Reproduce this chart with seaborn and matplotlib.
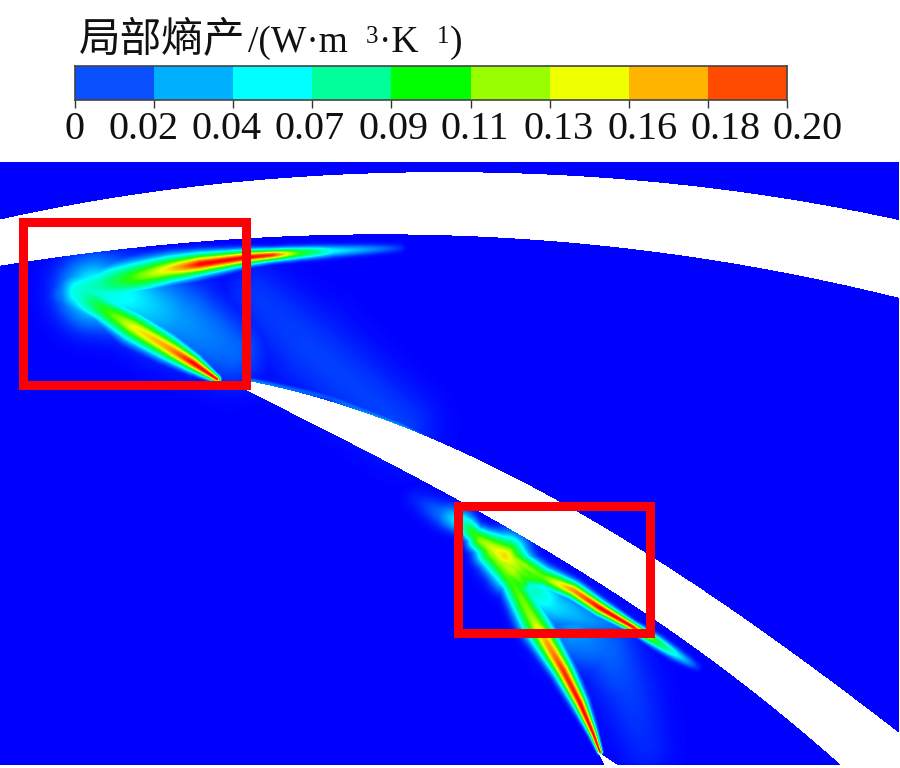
import numpy as np
import matplotlib
matplotlib.use('Agg')
import matplotlib.pyplot as plt
from matplotlib.colors import LinearSegmentedColormap, ListedColormap
from matplotlib.patches import Rectangle
import seaborn as sns

# local entropy production (image pixel coordinates)

bar_labels = ['0', '0.02', '0.04', '0.07', '0.09', '0.11', '0.13', '0.16', '0.18', '0.20']
label_centres = [75, 144, 227, 310, 394, 475, 559, 643, 726, 808]
bar_colors = ['#0a50ff', '#00b0ff', '#00ffff', '#00ff99', '#00ff00',
              '#99ff00', '#eeff00', '#ffb400', '#ff4b00']
bar_values = [0.01, 0.03, 0.055, 0.08, 0.10, 0.12, 0.145, 0.17, 0.19]

field_levels = [0.0, 0.012, 0.04, 0.07, 0.10, 0.14, 0.17, 0.20]
field_colors = ['#0000ff', '#0060ff', '#00ffff', '#00ff80', '#20ff00',
                '#f0ff00', '#ff9000', '#ff0000']

# white blade bands: upper edge x, y and lower edge x, y
band1_top_x = [0, 50, 100, 150, 200, 250, 300, 350, 400, 450, 500, 550, 600, 650, 700, 750, 800, 850, 900]
band1_top_y = [220, 209, 199, 192, 186, 182, 177, 174, 173, 172, 173, 174, 177, 182, 187, 193, 202, 210, 220]
band1_bot_x = [0, 50, 100, 150, 200, 250, 300, 350, 450, 500, 550, 600, 650, 700, 750, 800, 850, 900]
band1_bot_y = [267, 257, 251, 245, 242, 239, 237, 235, 235, 237, 241, 245, 251, 257, 267, 277, 287, 297]

band2_top_x = [243, 250, 280, 330, 380, 430, 480, 530, 557, 600, 653, 690, 740, 790, 840, 900]
band2_top_y = [381, 382, 387, 400, 417, 438, 463, 485, 501, 526, 557, 580, 615, 650, 690, 733]
band2_bot_x = [243, 280, 330, 380, 430, 460, 480, 565, 653, 690, 740, 790, 845]
band2_bot_y = [387, 408, 435, 458, 485, 500, 510, 562, 620, 643, 682, 722, 768]

band3_top_x = [598, 622]
band3_top_y = [752, 768]
band3_bot_x = [598, 606]
band3_bot_y = [752, 768]

# ridges of the field: x, y, peak value, half width
upper_x = [68, 80, 100, 140, 170, 200, 250, 273, 300, 333, 400]
upper_y = [294, 291, 285, 276, 269, 264, 257, 255, 253, 251, 248]
upper_v = [0.02, 0.05, 0.06, 0.115, 0.15, 0.2, 0.2, 0.19, 0.10, 0.04, 0.006]
upper_w = [16, 18, 16, 13, 11, 9, 6, 5, 5, 5, 4]

lower_x = [80, 103, 133, 167, 193, 217]
lower_y = [293, 309, 327, 347, 363, 379]
lower_v = [0.05, 0.095, 0.14, 0.165, 0.2, 0.2]
lower_w = [18, 11, 12, 10, 7, 3]

wake1_x = [95, 130, 180, 230]
wake1_y = [292, 298, 320, 350]
wake1_v = [0.05, 0.04, 0.022, 0.014]
wake1_w = [30, 30, 36, 32]

wake2_x = [255, 310, 400]
wake2_y = [295, 350, 425]
wake2_v = [0.007, 0.008, 0.008]
wake2_w = [30, 40, 34]

edge_x = [250, 330, 400, 440, 480]
edge_y = [381, 398, 428, 450, 470]
edge_v = [0.02, 0.01, 0.028, 0.05, 0.005]
edge_w = [3, 4, 5, 4, 2]

lead_x = [417, 440, 463, 473]
lead_y = [500, 513, 522, 533]
lead_v = [0.004, 0.014, 0.05, 0.1]
lead_w = [11, 12, 10, 8]

blade_x = [473, 510, 543, 573, 600, 633, 657, 677, 697]
blade_y = [533, 557, 577, 590, 608, 627, 642, 655, 667]
blade_v = [0.1, 0.13, 0.11, 0.17, 0.2, 0.2, 0.09, 0.04, 0.006]
blade_w = [7, 10, 9, 7, 6, 4, 5, 5, 4]

stem_x = [473, 497, 513, 533, 547, 563, 580, 593, 600]
stem_y = [533, 560, 583, 620, 643, 670, 703, 733, 752]
stem_v = [0.1, 0.12, 0.105, 0.125, 0.165, 0.19, 0.2, 0.2, 0.2]
stem_w = [7, 10, 10, 12, 10, 8, 6, 3.5, 2]

web_x = [480, 505, 525, 543]
web_y = [540, 556, 574, 580]
web_v = [0.12, 0.15, 0.11, 0.1]
web_w = [10, 17, 13, 6]

fill_x = [492, 512, 522]
fill_y = [552, 570, 582]
fill_v = [0.125, 0.13, 0.105]
fill_w = [13, 16, 10]

pocket_x = [535, 555, 590, 620]
pocket_y = [592, 606, 620, 625]
pocket_v = [0.055, 0.035, 0.022, 0.014]
pocket_w = [18, 20, 16, 10]

tail_x = [575, 607, 627, 645]
tail_y = [632, 650, 690, 745]
tail_v = [0.022, 0.013, 0.008, 0.005]
tail_w = [30, 30, 30, 26]

ridges = [
    (upper_x, upper_y, upper_v, upper_w),
    (lower_x, lower_y, lower_v, lower_w),
    (wake1_x, wake1_y, wake1_v, wake1_w),
    (wake2_x, wake2_y, wake2_v, wake2_w),
    (edge_x, edge_y, edge_v, edge_w),
    (lead_x, lead_y, lead_v, lead_w),
    (blade_x, blade_y, blade_v, blade_w),
    (stem_x, stem_y, stem_v, stem_w),
    (web_x, web_y, web_v, web_w),
    (fill_x, fill_y, fill_v, fill_w),
    (pocket_x, pocket_y, pocket_v, pocket_w),
    (tail_x, tail_y, tail_v, tail_w),
]

field_top = 162
field_bottom = 765
field_right = 899


def build_field():
    yy, xx = np.mgrid[0:768, 0:900]
    xx = xx + 0.5
    yy = yy + 0.5
    field = np.zeros(xx.shape)
    for rx, ry, rv, rw in ridges:
        for i in range(len(rx) - 1):
            dx = rx[i + 1] - rx[i]
            dy = ry[i + 1] - ry[i]
            t = ((xx - rx[i]) * dx + (yy - ry[i]) * dy) / (dx * dx + dy * dy)
            t = np.clip(t, 0, 1)
            d = np.hypot(xx - rx[i] - t * dx, yy - ry[i] - t * dy)
            peak = rv[i] + t * (rv[i + 1] - rv[i])
            width = rw[i] + t * (rw[i + 1] - rw[i])
            field = np.maximum(field, peak * np.exp(-(d / width) ** 2))
    return field


def edge_curve(xx, ex, ey, deg):
    # smooth the hand read edge points, the blades are clean arcs
    u = (xx - 450.0) / 450.0
    coef = np.polyfit((np.array(ex) - 450.0) / 450.0, ey, deg)
    return np.polyval(coef, u)


def build_mask():
    yy, xx = np.mgrid[0:768, 0:900]
    xx = xx + 0.5
    yy = yy + 0.5
    mask = (yy < field_top) | (yy > field_bottom) | (xx > field_right)
    bands = [
        (band1_top_x, band1_top_y, band1_bot_x, band1_bot_y, 0, 900, 4),
        (band2_top_x, band2_top_y, band2_bot_x, band2_bot_y, 243, 900, 3),
        (band3_top_x, band3_top_y, band3_bot_x, band3_bot_y, 598, 622, 1),
    ]
    for tx, ty, bx, by, x0, x1, deg in bands:
        top = edge_curve(xx, tx, ty, deg)
        bot = edge_curve(xx, bx, by, deg)
        mask = mask | ((yy > top) & (yy < bot) & (xx >= x0) & (xx <= x1))
    return mask


fig = plt.figure(figsize=(9, 7.68), dpi=100, facecolor='white')

# contour field
ax = fig.add_axes([0, 0, 1, 1])
stops = [v / 0.2 for v in field_levels]
field_cmap = LinearSegmentedColormap.from_list('entropy', list(zip(stops, field_colors)), N=512)
sns.heatmap(build_field(), mask=build_mask(), cmap=field_cmap, vmin=0, vmax=0.2,
            cbar=False, xticklabels=False, yticklabels=False, ax=ax, rasterized=True)
ax.set_xlim(0, 900)
ax.set_ylim(768, 0)

# highlighted regions
for x0, y0, x1, y1 in [(22.5, 221.5, 245.5, 384.5), (457.5, 505.5, 649.5, 632.5)]:
    ax.add_patch(Rectangle((x0, y0), x1 - x0, y1 - y0, fill=False,
                           edgecolor='#fb0006', linewidth=6.5, joinstyle='miter', zorder=5))

# legend bar, its labels are spaced a little wider than the ticks
serif = ['Liberation Serif', 'Noto Sans CJK SC']
cax = fig.add_axes([75 / 900, 1 - 100 / 768, 712 / 900, 34 / 768])
sns.heatmap(np.array([bar_values]), cmap=ListedColormap(bar_colors),
            vmin=0, vmax=0.2, cbar=False, yticklabels=False, ax=cax)
cax.set_xticks(np.arange(len(bar_labels)))
cax.set_xticklabels([])
cax.tick_params(axis='x', length=6, width=1, color='#333333', bottom=True)
for s in cax.spines.values():
    s.set_visible(True)
    s.set_color('#444444')
    s.set_linewidth(1.2)
for lab, cx in zip(bar_labels, label_centres):
    ax.text(cx, 139, lab, family=serif, fontsize=29, color='#111111', ha='center', va='baseline')

# title pieces, the raised exponents sit apart as in the picture
title_parts = [('局部熵产', 79, 52, 30), ('/(W·m', 248, 52, 27), ('3', 366, 43, 18), ('·K', 379, 52, 27),
               ('1', 437, 43, 18), (')', 450, 52, 27)]
for txt, px, py, fs in title_parts:
    ax.text(px, py, txt, family=serif, fontsize=fs, color='#111111', ha='left', va='baseline')

fig.savefig('out.png', dpi=100, facecolor='white')
